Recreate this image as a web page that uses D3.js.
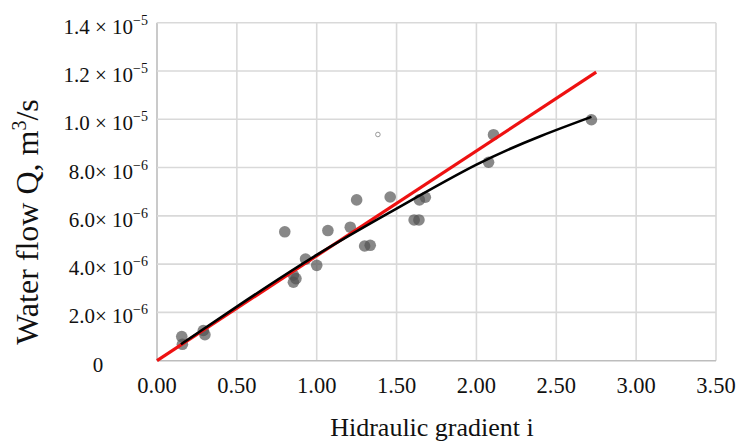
<!DOCTYPE html>
<html>
<head>
<meta charset="utf-8">
<script src="https://cdn.jsdelivr.net/npm/d3@7"></script>
<style>
  body { margin: 0; background: #fff; }
  text { font-family: "Liberation Serif", "Times New Roman", serif; fill: #111; }
</style>
</head>
<body>
<div id="chart"></div>
<script>
// --- data ---
const gradient = [0.155, 0.159, 0.29, 0.30, 0.80, 0.854, 0.854, 0.87, 0.93, 1.00, 1.07, 1.21,
                  1.25, 1.30, 1.335, 1.46, 1.61, 1.64, 1.643, 1.68, 2.076, 2.107, 2.72];
const flow = [1.00, 0.68, 1.25, 1.08, 5.34, 3.55, 3.25, 3.40, 4.21, 3.95, 5.39, 5.53,
              6.66, 4.75, 4.78, 6.78, 5.83, 5.83, 6.66, 6.77, 8.22, 9.36, 9.98]; // x 1e-6
const outlier = [1.383, 9.37]; // small hollow point

const trendX = [0.15, 0.5, 1.0, 1.5, 2.0, 2.4, 2.72];          // black curve
const trendY = [0.68, 2.24, 4.38, 6.30, 8.12, 9.30, 10.10];
const linearX = [0, 2.75];                                      // red line
const linearY = [0, 11.95];

const xTicks = [0, 0.5, 1, 1.5, 2, 2.5, 3, 3.5];
const yTicks = [0, 2e-6, 4e-6, 6e-6, 8e-6, 1e-5, 1.2e-5, 1.4e-5];
const yTickMain = ["0", "2.0\u00d7 10", "4.0\u00d7 10", "6.0\u00d7 10", "8.0\u00d7 10",
                   "1.0 \u00d7 10", "1.2 \u00d7 10", "1.4 \u00d7 10"];
const yTickExp = ["", "\u22126", "\u22126", "\u22126", "\u22126", "\u22125", "\u22125", "\u22125"];

// --- setup ---
const width = 740, height = 441;
const svg = d3.select("#chart").append("svg")
    .attr("width", width).attr("height", height);

const x = d3.scaleLinear().domain([0, 3.5]).range([157, 716]);
const y = d3.scaleLinear().domain([0, 1.4e-5]).range([360.7, 22.7]);

// grid
svg.append("g").selectAll("line").data(xTicks).join("line")
    .attr("x1", d => x(d)).attr("x2", d => x(d))
    .attr("y1", y(0)).attr("y2", y(1.4e-5))
    .attr("stroke", d => d === 0 ? "#bdbdbd" : "#d9d9d9").attr("stroke-width", 1.6);
svg.append("g").selectAll("line").data(yTicks).join("line")
    .attr("x1", x(0)).attr("x2", x(3.5))
    .attr("y1", d => y(d)).attr("y2", d => y(d))
    .attr("stroke", d => d === 0 ? "#bdbdbd" : "#d9d9d9").attr("stroke-width", 1.6);

// x tick labels
svg.append("g").selectAll("text").data(xTicks).join("text")
    .attr("x", d => x(d)).attr("y", 393)
    .attr("text-anchor", "middle")
    .attr("font-size", 22.5)
    .text(d => d.toFixed(2));

// y tick labels with superscript
const yl = svg.append("g").selectAll("text").data(yTicks).join("text")
    .attr("x", (d, i) => i === 0 ? 98 : 148)
    .attr("y", d => y(d) + 11)
    .attr("text-anchor", (d, i) => i === 0 ? "middle" : "end")
    .attr("font-size", 21);
yl.append("tspan").text((d, i) => yTickMain[i]);
yl.append("tspan").attr("dy", -9).attr("font-size", 14).text((d, i) => yTickExp[i]);

// axis titles
svg.append("text")
    .attr("x", 432).attr("y", 436)
    .attr("text-anchor", "middle").attr("font-size", 26)
    .text("Hidraulic gradient i");

const yt = svg.append("text")
    .attr("transform", "translate(38,222) rotate(-90)")
    .attr("text-anchor", "middle").attr("font-size", 32);
yt.append("tspan").text("Water flow Q, m");
yt.append("tspan").attr("dy", -12).attr("font-size", 20).text("3");
yt.append("tspan").attr("dy", 12).text("/s");

// points
const pts = gradient.map((g, i) => [g, flow[i] * 1e-6]);
svg.append("g").selectAll("circle").data(pts).join("circle")
    .attr("cx", d => x(d[0])).attr("cy", d => y(d[1]))
    .attr("r", 5.8)
    .attr("fill", "#4f4f4f").attr("fill-opacity", 0.68);

svg.append("circle")
    .attr("cx", x(outlier[0])).attr("cy", y(outlier[1] * 1e-6))
    .attr("r", 2.3).attr("fill", "#fff")
    .attr("stroke", "#999").attr("stroke-width", 1);

// lines
const line = d3.line().x(d => x(d[0])).y(d => y(d[1] * 1e-6));
svg.append("path")
    .datum(linearX.map((v, i) => [v, linearY[i]]))
    .attr("d", line)
    .attr("fill", "none").attr("stroke", "#ee1111").attr("stroke-width", 3.2);

svg.append("path")
    .datum(trendX.map((v, i) => [v, trendY[i]]))
    .attr("d", line.curve(d3.curveNatural))
    .attr("fill", "none").attr("stroke", "#000").attr("stroke-width", 2.6);
</script>
</body>
</html>
